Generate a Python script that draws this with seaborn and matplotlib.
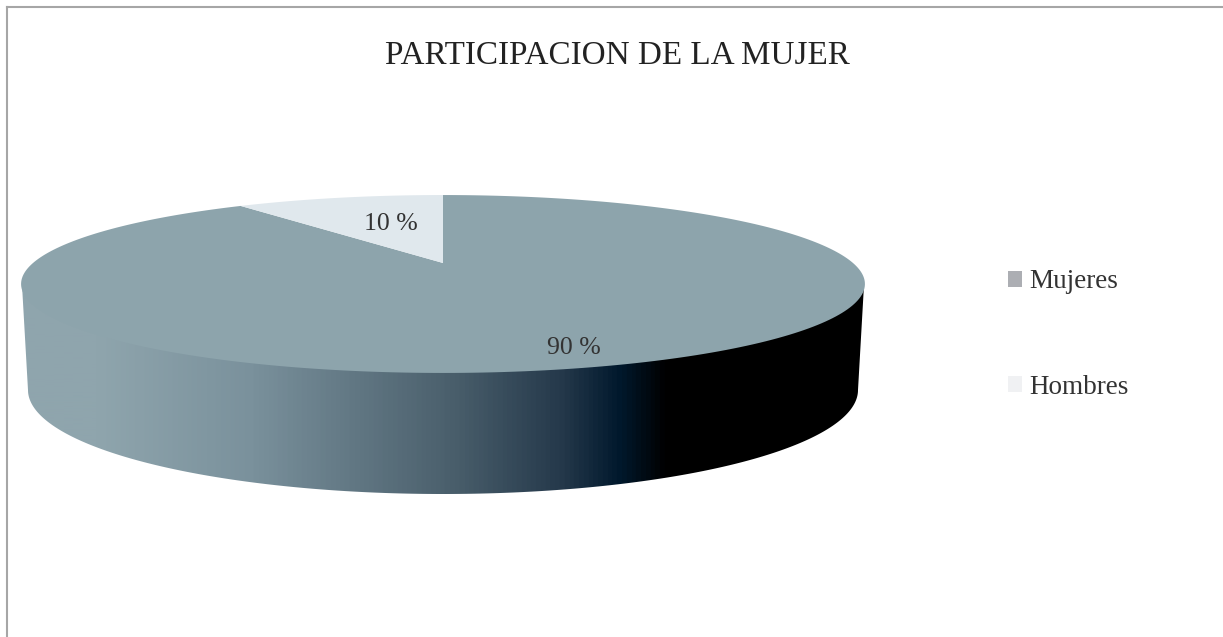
import numpy as np
import matplotlib.pyplot as plt
import seaborn as sns
from matplotlib.colors import LinearSegmentedColormap
from matplotlib.patches import Patch, PathPatch
from matplotlib.path import Path

# datos del grafico
categorias = ['Mujeres', 'Hombres']
valores = [90, 10]
titulo = 'PARTICIPACION DE LA MUJER'
color_mujeres = '#8da4ac'
color_hombres = '#e0e8ed'
colores_leyenda = ['#acaeb3', '#f0f1f3']

sns.set_theme(style='white')
plt.rcParams['font.family'] = ['Liberation Serif', 'DejaVu Serif']

ANCHO, ALTO = 1223, 637
fig = plt.figure(figsize=(ANCHO / 100, ALTO / 100), dpi=100)
ax = fig.add_axes([6.5 / ANCHO, 0, 1 - 6.5 / ANCHO, 1 - 6.5 / ALTO])
ax.set_xlim(6.5, ANCHO)
ax.set_ylim(ALTO, 6.5)
ax.set_xticks([])
ax.set_yticks([])
sns.despine(ax=ax, right=True, bottom=True, top=False, left=False)
for lado in ['top', 'left']:
    ax.spines[lado].set_color('#a6a6a6')
    ax.spines[lado].set_linewidth(1.5)


def proyectar(angulo, radio=1.0):
    # circulo en perspectiva: el centro queda por encima del centro de la elipse
    x = radio * np.sin(angulo)
    y = radio * np.cos(angulo)
    w = 1 + 0.236 * y
    return 443 + 410 * x / w, 263 - 84 * y / w


def elipse(cx, cy, a, b, t):
    return cx + a * np.cos(t), cy + b * np.sin(t)


# pared lateral con degradado (el borde de arriba queda tapado por la cara superior)
t = np.linspace(np.pi, 0, 300)
x_sup, y_sup = elipse(443, 285, 421, 80, t)
x_inf, y_inf = elipse(443, 390, 415, 104, t[::-1])
contorno = np.vstack([np.column_stack([x_sup, y_sup]), np.column_stack([x_inf, y_inf])])
pared = PathPatch(Path(np.vstack([contorno, contorno[:1]]), closed=True),
                  facecolor='none', edgecolor='none', transform=ax.transData)
ax.add_patch(pared)

paradas = [(0, '#8fa5ad'), (95 / ANCHO, '#8fa5ad'), (250 / ANCHO, '#7a919c'),
           (450 / ANCHO, '#4a5f6c'), (560 / ANCHO, '#25394b'), (620 / ANCHO, '#00182c'),
           (665 / ANCHO, '#000000'), (1, '#000000')]
degradado = LinearSegmentedColormap.from_list('pared', paradas)
imagen = ax.imshow(np.linspace(0, 1, ANCHO).reshape(1, -1), cmap=degradado, aspect='auto',
                   extent=[0, ANCHO, 520, 260], zorder=1)
imagen.set_clip_path(pared)
ax.set_xlim(6.5, ANCHO)
ax.set_ylim(ALTO, 6.5)

# cara superior, sectores en sentido horario desde las 12
limites = np.cumsum([0] + valores) / sum(valores) * 2 * np.pi
for inicio, fin, color in zip(limites[:-1], limites[1:], [color_mujeres, color_hombres]):
    ang = np.linspace(inicio, fin, 300)
    x_s, y_s = proyectar(ang)
    x0, y0 = proyectar(0.0, 0.0)
    ax.fill(np.r_[x0, x_s], np.r_[y0, y_s], color=color, lw=0, zorder=2)

ax.text(574, 348, f'{valores[0]} %', fontsize=18.5, color='#333333', ha='center', va='center', zorder=3)
ax.text(391, 224, f'{valores[1]} %', fontsize=18.5, color='#333333', ha='center', va='center', zorder=3)

ax.text(617, 56, titulo, fontsize=23.9, color='#222222', ha='center', va='center')

marcas = [Patch(facecolor=c, edgecolor='none') for c in colores_leyenda]
ax.legend(marcas, categorias, loc='center left', bbox_to_anchor=(1008 / ANCHO, 1 - 334.5 / ALTO),
          bbox_transform=fig.transFigure, frameon=False, fontsize=19.5, labelcolor='#333333',
          handlelength=0.52, handleheight=0.52, handletextpad=0.25, labelspacing=2.97,
          borderpad=0, borderaxespad=0)

fig.savefig('out.png', dpi=100)
